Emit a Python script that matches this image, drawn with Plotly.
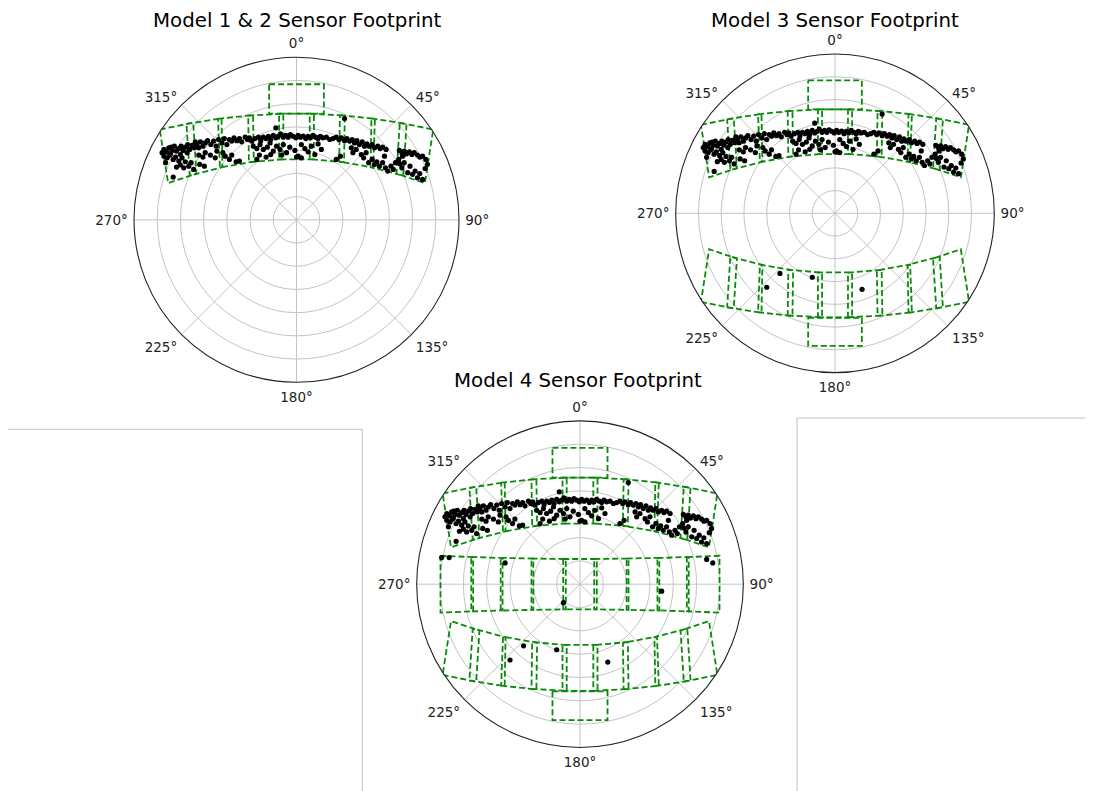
import math
import plotly.graph_objects as go

# page body has an 8px margin: paper starts at (8, 8) of the window
OX, OY = 8, 8
W, H = 1093 - OX, 791 - OY

# ---------------- data (east / north offsets, in radial-axis units) ----------------
# footprint corners: each box = 4 corners (east, north)
upper_row_boxes = [
    [(-58.9, 38.9), (-44.5, 41.8), (-43.1, 19.9), (-55.3, 15.8)],
    [(-47.4, 41.3), (-32.3, 43.7), (-31.9, 22.7), (-46.0, 19.0)],
    [(-33.8, 43.5), (-18.7, 45.1), (-18.4, 25.1), (-33.0, 22.5)],
    [(-20.8, 44.9), (-5.7, 45.7), (-5.7, 26.1), (-20.5, 24.8)],
    [(-7.5, 45.7), (7.5, 45.7), (7.5, 26.0), (-7.5, 26.0)],
    [(5.7, 45.7), (20.8, 44.9), (20.5, 24.8), (5.7, 26.1)],
    [(18.7, 45.1), (33.8, 43.5), (33.0, 22.5), (18.4, 25.1)],
    [(32.3, 43.7), (47.4, 41.3), (46.0, 19.0), (31.9, 22.7)],
    [(44.5, 41.8), (58.9, 38.9), (55.3, 15.8), (43.1, 19.9)],
]
upper_single_box = [(-11.8, 58.4), (11.8, 58.4), (11.8, 45.7), (-11.8, 45.7)]

middle_row_boxes = [
    [(-59.8, 12.2), (-45.8, 11.6), (-45.8, -11.6), (-59.8, -12.2)],
    [(-46.6, 11.7), (-33.2, 11.2), (-33.2, -11.2), (-46.6, -11.7)],
    [(-34.0, 11.3), (-20.0, 11.0), (-20.0, -11.0), (-34.0, -11.3)],
    [(-20.8, 11.0), (-6.1, 10.8), (-6.1, -10.8), (-20.8, -11.0)],
    [(-7.2, 10.8), (7.2, 10.8), (7.2, -10.8), (-7.2, -10.8)],
    [(6.1, 10.8), (20.8, 11.0), (20.8, -11.0), (6.1, -10.8)],
    [(20.0, 11.0), (34.0, 11.3), (34.0, -11.3), (20.0, -11.0)],
    [(33.2, 11.2), (46.6, 11.7), (46.6, -11.7), (33.2, -11.2)],
    [(45.8, 11.6), (59.8, 12.2), (59.8, -12.2), (45.8, -11.6)],
]

lower_row_boxes = [
    [(-58.9, -38.9), (-44.5, -41.8), (-43.1, -19.9), (-55.3, -15.8)],
    [(-47.4, -41.3), (-32.3, -43.7), (-31.9, -22.7), (-46.0, -19.0)],
    [(-33.8, -43.5), (-18.7, -45.1), (-18.4, -25.1), (-33.0, -22.5)],
    [(-20.8, -44.9), (-5.7, -45.7), (-5.7, -26.1), (-20.5, -24.8)],
    [(-7.5, -45.7), (7.5, -45.7), (7.5, -26.0), (-7.5, -26.0)],
    [(5.7, -45.7), (20.8, -44.9), (20.5, -24.8), (5.7, -26.1)],
    [(18.7, -45.1), (33.8, -43.5), (33.0, -22.5), (18.4, -25.1)],
    [(32.3, -43.7), (47.4, -41.3), (46.0, -19.0), (31.9, -22.7)],
    [(44.5, -41.8), (58.9, -38.9), (55.3, -15.8), (43.1, -19.9)],
]
lower_single_box = [(-11.8, -45.9), (11.8, -45.9), (11.8, -58.3), (-11.8, -58.3)]

# detections inside the upper strip (shared by all models)
upper_hits_left = [
    (-57.1, 30.3), (-56.0, 29.3), (-55.0, 31.0), (-54.3, 28.4), (-53.6, 29.9), (-52.6, 31.7),
    (-51.7, 29.6), (-50.7, 30.7), (-50.0, 28.1), (-48.9, 29.9), (-47.9, 31.3), (-47.1, 28.9),
    (-46.0, 30.3), (-45.0, 32.1), (-44.0, 31.0), (-57.1, 27.4), (-55.7, 26.7), (-54.6, 27.9),
    (-53.1, 26.0), (-52.1, 27.0), (-50.7, 25.3), (-49.3, 26.7), (-47.9, 25.0), (-56.4, 24.6),
    (-51.7, 22.7), (-50.0, 23.6), (-48.6, 22.4), (-46.4, 23.1), (-45.4, 24.6), (-44.3, 21.7),
    (-53.1, 18.4), (-43.6, 33.6), (-42.1, 31.0), (-57.9, 28.9), (-54.0, 31.3), (-49.7, 31.7),
    (-46.9, 32.4),
]
upper_hits_midleft = [
    (-42.9, 32.4), (-41.4, 33.6), (-40.3, 31.7), (-39.3, 33.1), (-38.3, 34.1), (-36.9, 32.4),
    (-35.7, 33.9), (-34.6, 31.7), (-33.6, 34.6), (-32.1, 33.1), (-31.1, 35.0), (-30.0, 32.4),
    (-28.9, 34.6), (-27.9, 33.9), (-26.9, 35.3), (-25.7, 34.1), (-24.6, 35.0), (-23.6, 33.6),
    (-22.1, 35.6), (-21.1, 34.6), (-20.3, 35.3), (-42.1, 27.9), (-40.3, 27.0), (-39.3, 28.9),
    (-37.1, 27.9), (-35.0, 26.7), (-34.3, 29.6), (-31.7, 28.9), (-30.7, 27.4), (-28.9, 26.0),
    (-27.9, 27.9), (-26.0, 25.0), (-24.6, 25.3), (-39.7, 23.1), (-41.7, 23.9),
]
upper_hits_center = [
    (-19.3, 33.9), (-17.9, 35.0), (-16.4, 35.6), (-15.4, 34.1), (-14.3, 35.6), (-13.1, 35.0),
    (-12.1, 36.0), (-11.1, 34.6), (-10.0, 36.4), (-8.9, 35.3), (-7.9, 36.0), (-6.9, 37.0),
    (-5.7, 35.6), (-4.6, 36.4), (-3.6, 35.6), (-2.6, 36.7), (-1.4, 36.0), (-0.3, 35.3),
    (0.7, 36.4), (1.7, 35.6), (2.9, 36.1), (4.0, 35.0), (5.0, 36.0), (6.0, 35.3),
    (7.1, 36.4), (8.3, 35.6), (9.3, 35.0), (10.3, 36.0), (11.4, 35.3), (12.9, 35.6),
    (14.3, 34.6), (-8.9, 39.6), (20.7, 43.6),
    (-18.6, 31.7), (-17.1, 30.7), (-15.7, 32.4), (-14.3, 30.3), (-12.6, 31.3), (-11.4, 33.1),
    (-10.0, 29.6), (-8.6, 31.7), (-7.1, 30.3), (-5.7, 32.4), (-4.3, 28.9), (-2.9, 31.3),
    (-0.7, 29.9), (0.7, 27.4), (2.1, 32.4), (3.6, 30.7), (5.0, 29.3), (6.4, 31.7),
    (7.9, 28.1), (9.3, 32.7), (10.7, 30.3), (-16.0, 27.9), (-13.1, 27.0), (-11.1, 28.1),
    (-6.4, 27.9), (0.0, 27.0), (2.1, 26.7), (-17.1, 26.0),
]
upper_hits_midright = [
    (15.7, 35.0), (17.1, 35.6), (18.3, 34.6), (19.3, 35.3), (20.7, 34.1), (21.7, 35.0),
    (22.9, 33.9), (24.0, 34.6), (25.0, 33.1), (26.0, 34.1), (27.1, 32.4), (28.3, 33.6),
    (29.3, 31.7), (30.3, 32.7), (31.4, 31.7), (32.6, 32.4), (33.6, 31.0), (35.0, 31.7),
    (36.0, 30.7), (37.1, 31.3), (38.6, 30.3),
    (17.1, 26.0), (18.9, 27.4), (23.6, 31.0), (24.3, 28.9), (25.7, 30.3), (27.9, 28.1),
    (28.9, 26.7), (30.0, 28.9), (31.1, 24.6), (32.6, 26.0), (33.6, 23.9), (34.6, 25.0),
    (35.7, 23.1), (37.1, 24.6), (38.3, 22.4), (39.3, 21.0), (40.7, 23.1), (41.7, 21.7),
    (42.6, 24.6), (37.9, 27.4),
]
upper_hits_right = [
    (44.3, 29.9), (45.4, 28.9), (46.4, 29.6), (47.4, 28.4), (48.6, 29.3), (49.7, 28.1),
    (50.7, 28.9), (52.1, 27.9), (53.1, 27.0), (54.3, 27.4), (55.7, 26.0), (56.4, 23.9),
    (44.0, 26.0), (44.6, 24.1), (45.4, 22.4), (46.4, 24.6), (47.9, 20.3), (48.9, 23.1),
    (50.0, 19.6), (51.1, 21.0), (52.1, 18.1), (53.1, 19.9), (54.3, 17.4), (55.4, 22.1),
    (45.7, 27.4),
]
middle_hits = [(-59.3, 11.4), (-56.1, 11.4), (-32.1, 9.1), (-7.1, -7.9),
               (35.0, -3.0), (54.3, 10.6), (56.9, 9.1)]
lower_hits = [(-24.2, -26.4), (-30.0, -32.5), (-10.0, -28.1), (11.9, -33.4)]

titles = ["Model 1 & 2 Sensor Footprint", "Model 3 Sensor Footprint", "Model 4 Sensor Footprint"]
angle_ticks = [0, 45, 90, 135, 180, 225, 270, 315]
angle_labels = [f"{a}°" for a in angle_ticks]

# ---------------- helpers ----------------
def to_polar(points):
    th = [math.degrees(math.atan2(e, n)) % 360 for e, n in points]
    r = [math.hypot(e, n) for e, n in points]
    return th, r


def boxes_trace(boxes, sub):
    th_all, r_all = [], []
    for b in boxes:
        th, r = to_polar(b + [b[0]])
        th_all += th + [None]
        r_all += r + [None]
    return go.Scatterpolar(theta=th_all, r=r_all, mode="lines", subplot=sub,
                           line=dict(color="#0a8a0a", width=1.8, dash="6px,3px"),
                           connectgaps=False, hoverinfo="skip", showlegend=False)


def hits_trace(points, sub):
    th, r = to_polar(points)
    return go.Scatterpolar(theta=th, r=r, mode="markers", subplot=sub,
                           marker=dict(color="black", size=5.2, line=dict(width=0)),
                           showlegend=False)


upper_hits = (upper_hits_left + upper_hits_midleft + upper_hits_center
              + upper_hits_midright + upper_hits_right)

plot_boxes = [
    upper_row_boxes + [upper_single_box],
    upper_row_boxes + [upper_single_box] + lower_row_boxes + [lower_single_box],
    upper_row_boxes + [upper_single_box] + middle_row_boxes + lower_row_boxes + [lower_single_box],
]
plot_hits = [
    upper_hits,
    upper_hits + lower_hits,
    upper_hits + middle_hits + lower_hits,
]

fig = go.Figure()
subs = ["polar", "polar2", "polar3"]
for sub, bx, hp in zip(subs, plot_boxes, plot_hits):
    fig.add_trace(boxes_trace(bx, sub))
    fig.add_trace(hits_trace(hp, sub))

# ---------------- layout (window pixel positions) ----------------
centers = [(296.5, 219.8, 162.5), (835.0, 213.3, 159.3), (580.0, 584.2, 163.3)]
title_pos = [(297, None), (835, None), (578, 381)]


def px(x):
    return (x - OX) / W


def py(y):
    return 1 - (y - OY) / H


def polar_layout(cx, cy, rad):
    return dict(
        domain=dict(x=[px(cx - rad), px(cx + rad)], y=[py(cy + rad), py(cy - rad)]),
        bgcolor="white",
        angularaxis=dict(direction="clockwise", rotation=90,
                         tickmode="array", tickvals=angle_ticks, ticktext=angle_labels,
                         ticks="outside", ticklen=3, tickcolor="rgba(0,0,0,0)",
                         showline=True, linecolor="#222222", linewidth=1.1,
                         showgrid=True, gridcolor="#c4c4c4", gridwidth=0.9,
                         tickfont=dict(family="DejaVu Sans", size=13.5, color="#222222")),
        radialaxis=dict(range=[0, 70], tick0=0, dtick=10, showticklabels=False,
                        ticks="", showline=False, showgrid=True,
                        gridcolor="#c4c4c4", gridwidth=0.9),
    )


layout = dict(width=W, height=H, margin=dict(l=0, r=0, t=0, b=0),
              paper_bgcolor="white", plot_bgcolor="white", showlegend=False)
for sub, (cx, cy, rad) in zip(subs, centers):
    layout[sub] = polar_layout(cx, cy, rad)
fig.update_layout(**layout)

for t, (x, y) in zip(titles, title_pos):
    if y is None:
        ypos, yanc = 1.0, "top"
    else:
        ypos, yanc = py(y), "middle"
    fig.add_annotation(text=t, x=px(x), y=ypos, xref="paper", yref="paper",
                       showarrow=False, xanchor="center", yanchor=yanc, borderpad=0,
                       font=dict(family="DejaVu Sans", size=19.8, color="black"))

frame = dict(type="line", xref="paper", yref="paper", line=dict(color="#c0c0c0", width=1))
fig.add_shape(x0=px(8), x1=px(362.3), y0=py(429.3), y1=py(429.3), **frame)
fig.add_shape(x0=px(362.3), x1=px(362.3), y0=py(429.3), y1=0, **frame)
fig.add_shape(x0=px(797), x1=1, y0=py(418), y1=py(418), **frame)
fig.add_shape(x0=px(797), x1=px(797), y0=py(418), y1=0, **frame)

fig.write_html("out.html")
